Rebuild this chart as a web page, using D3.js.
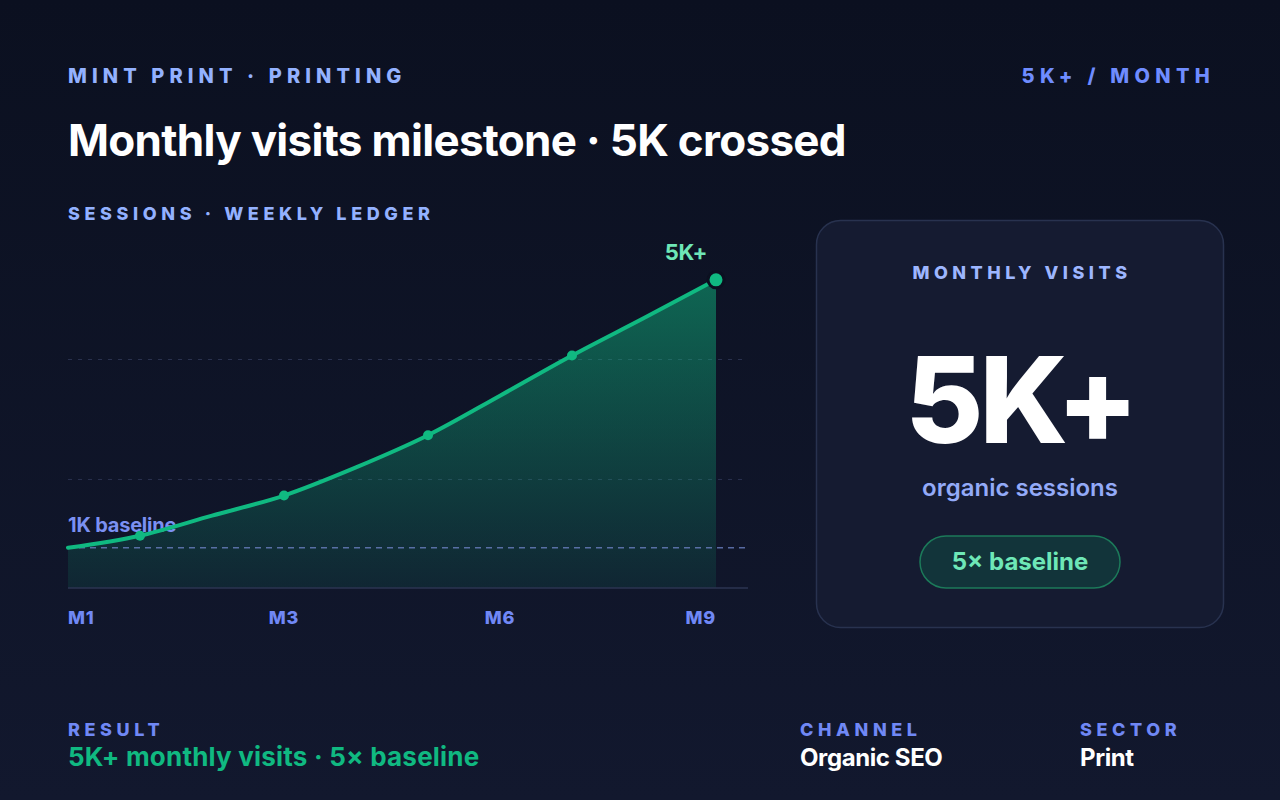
<!DOCTYPE html>
<html>
<head>
<meta charset="utf-8">
<script src="https://cdn.jsdelivr.net/npm/d3@7"></script>
<style>
  html, body { margin: 0; padding: 0; background: #0c1122; }
  #chart { width: 1280px; height: 800px; }
  text { font-family: Inter, "Noto Sans", sans-serif; }
</style>
</head>
<body>
<div id="chart"></div>
<script>
const width = 1280;
const height = 800;

// weekly sessions (index 0..9)
const sessions = [1000, 1180, 1480, 1780, 2200, 2680, 3270, 3870, 4430, 5000];
const dotIdx = [1, 3, 5, 7];
const tickIdx = [0, 3, 6, 9];
const tickLabels = ["M1", "M3", "M6", "M9"];
const gridValues = [2020, 3810];
const baselineValue = 1000;

const svg = d3.select("#chart")
  .append("svg")
  .attr("width", width)
  .attr("height", height)
  .attr("viewBox", `0 0 ${width} ${height}`);

const defs = svg.append("defs");

const bg = defs.append("linearGradient")
  .attr("id", "bg").attr("x1", 0).attr("y1", 0).attr("x2", 0).attr("y2", 1);
bg.append("stop").attr("offset", "0%").attr("stop-color", "#0b1020");
bg.append("stop").attr("offset", "100%").attr("stop-color", "#12182e");

const areaGrad = defs.append("linearGradient")
  .attr("id", "areaGrad").attr("x1", 0).attr("y1", 0).attr("x2", 0).attr("y2", 1);
areaGrad.append("stop").attr("offset", "0%").attr("stop-color", "#10b981").attr("stop-opacity", 0.5);
areaGrad.append("stop").attr("offset", "100%").attr("stop-color", "#10b981").attr("stop-opacity", 0.1);

svg.append("rect").attr("width", width).attr("height", height).attr("fill", "url(#bg)");

// Cabeçalho
svg.append("text")
  .attr("x", 68).attr("y", 83)
  .attr("fill", "#93b1ff")
  .attr("font-size", 20).attr("font-weight", 800)
  .attr("letter-spacing", 5.1)
  .text("MINT PRINT · PRINTING");

svg.append("text")
  .attr("x", 1215).attr("y", 83)
  .attr("text-anchor", "end")
  .attr("fill", "#6f8cff")
  .attr("font-size", 20).attr("font-weight", 800)
  .attr("letter-spacing", 5.3)
  .text("5K+ / MONTH");

svg.append("text")
  .attr("x", 68).attr("y", 156)
  .attr("fill", "#ffffff")
  .attr("font-size", 44).attr("font-weight", 700)
  .attr("letter-spacing", -0.7)
  .text("Monthly visits milestone · 5K crossed");

svg.append("text")
  .attr("x", 68).attr("y", 220)
  .attr("fill", "#93b1ff")
  .attr("font-size", 18).attr("font-weight", 800)
  .attr("letter-spacing", 4.6)
  .text("SESSIONS · WEEKLY LEDGER");

// Escalas
const x = d3.scaleLinear().domain([0, sessions.length - 1]).range([68, 716]);
const y = d3.scaleLinear().domain([400, 5400]).range([588, 253]);
const plotLeft = 68, plotRight = 748, plotBottom = 588;

const g = svg.append("g");

g.selectAll(".grid")
  .data(gridValues)
  .enter()
  .append("line")
  .attr("x1", plotLeft).attr("x2", plotRight)
  .attr("y1", d => y(d)).attr("y2", d => y(d))
  .attr("stroke", "#2a3250")
  .attr("stroke-width", 1)
  .attr("stroke-dasharray", "4 6");

const area = d3.area()
  .x((d, i) => x(i))
  .y0(plotBottom)
  .y1(d => y(d))
  .curve(d3.curveMonotoneX);

const line = d3.line()
  .x((d, i) => x(i))
  .y(d => y(d))
  .curve(d3.curveMonotoneX);

g.append("path")
  .datum(sessions)
  .attr("d", area)
  .attr("fill", "url(#areaGrad)");

// linha de base 1K
g.append("line")
  .attr("x1", plotLeft).attr("x2", plotRight)
  .attr("y1", y(baselineValue)).attr("y2", y(baselineValue))
  .attr("stroke", "#6a7fc0")
  .attr("stroke-opacity", 0.8)
  .attr("stroke-width", 1.5)
  .attr("stroke-dasharray", "6 5");

g.append("text")
  .attr("x", 68).attr("y", y(baselineValue) - 16)
  .attr("fill", "#7b90f2")
  .attr("font-size", 20).attr("font-weight", 700)
  .attr("letter-spacing", -0.2)
  .text("1K baseline");

// eixo x
g.append("line")
  .attr("x1", plotLeft).attr("x2", plotRight)
  .attr("y1", plotBottom).attr("y2", plotBottom)
  .attr("stroke", "#2b3552")
  .attr("stroke-width", 1.5);

g.selectAll(".tick")
  .data(tickIdx)
  .enter()
  .append("text")
  .attr("x", d => x(d))
  .attr("y", 624)
  .attr("text-anchor", (d, i) => i === 0 ? "start" : (i === tickIdx.length - 1 ? "end" : "middle"))
  .attr("fill", "#7088f5")
  .attr("font-size", 18).attr("font-weight", 800)
  .attr("letter-spacing", 0.8)
  .text((d, i) => tickLabels[i]);

g.append("path")
  .datum(sessions)
  .attr("d", line)
  .attr("fill", "none")
  .attr("stroke", "#10b981")
  .attr("stroke-width", 4)
  .attr("stroke-linecap", "round")
  .attr("stroke-linejoin", "round");

g.selectAll(".dot")
  .data(dotIdx)
  .enter()
  .append("circle")
  .attr("cx", d => x(d))
  .attr("cy", d => y(sessions[d]))
  .attr("r", 5)
  .attr("fill", "#10b981");

const last = sessions.length - 1;
g.append("circle")
  .attr("cx", x(last))
  .attr("cy", y(sessions[last]))
  .attr("r", 8)
  .attr("fill", "#10b981")
  .attr("stroke", "#0b1020")
  .attr("stroke-width", 3);

g.append("text")
  .attr("x", x(last) - 30).attr("y", 260)
  .attr("text-anchor", "middle")
  .attr("fill", "#6ee7b7")
  .attr("font-size", 22).attr("font-weight", 700)
  .attr("letter-spacing", -0.2)
  .text("5K+");

// Cartão
const card = svg.append("g");
card.append("rect")
  .attr("x", 816.5).attr("y", 220.5)
  .attr("width", 407).attr("height", 407)
  .attr("rx", 24)
  .attr("fill", "#151b31")
  .attr("stroke", "#28324f")
  .attr("stroke-width", 1.5);

card.append("text")
  .attr("x", 1022).attr("y", 279)
  .attr("text-anchor", "middle")
  .attr("fill", "#9db6ff")
  .attr("font-size", 18).attr("font-weight", 800)
  .attr("letter-spacing", 4.5)
  .text("MONTHLY VISITS");

card.append("text")
  .attr("x", 1020).attr("y", 443)
  .attr("text-anchor", "middle")
  .attr("fill", "#ffffff")
  .attr("font-size", 120).attr("font-weight", 800)
  .attr("letter-spacing", -4)
  .text("5K+");

card.append("text")
  .attr("x", 1020).attr("y", 496)
  .attr("text-anchor", "middle")
  .attr("fill", "#93aaf8")
  .attr("font-size", 24).attr("font-weight", 600)
  .text("organic sessions");

card.append("rect")
  .attr("x", 920).attr("y", 536)
  .attr("width", 200).attr("height", 52)
  .attr("rx", 26)
  .attr("fill", "#12343a")
  .attr("stroke", "#1c7a5a")
  .attr("stroke-width", 1.5);

card.append("text")
  .attr("x", 1020).attr("y", 570)
  .attr("text-anchor", "middle")
  .attr("fill", "#6ee7b7")
  .attr("font-size", 24).attr("font-weight", 700)
  .text("5× baseline");

// Rodapé
const footer = [
  { x: 68, label: "RESULT", value: "5K+ monthly visits · 5× baseline", color: "#10b981", size: 26, ls: 0.2 },
  { x: 800, label: "CHANNEL", value: "Organic SEO", color: "#ffffff", size: 24, ls: -0.4 },
  { x: 1080, label: "SECTOR", value: "Print", color: "#ffffff", size: 24, ls: -0.4 }
];

footer.forEach(f => {
  svg.append("text")
    .attr("x", f.x).attr("y", 736)
    .attr("fill", "#7088f5")
    .attr("font-size", 18).attr("font-weight", 800)
    .attr("letter-spacing", 4.6)
    .text(f.label);
  svg.append("text")
    .attr("x", f.x).attr("y", 766)
    .attr("fill", f.color)
    .attr("font-size", f.size).attr("font-weight", 700)
    .attr("letter-spacing", f.ls)
    .text(f.value);
});
</script>
</body>
</html>
